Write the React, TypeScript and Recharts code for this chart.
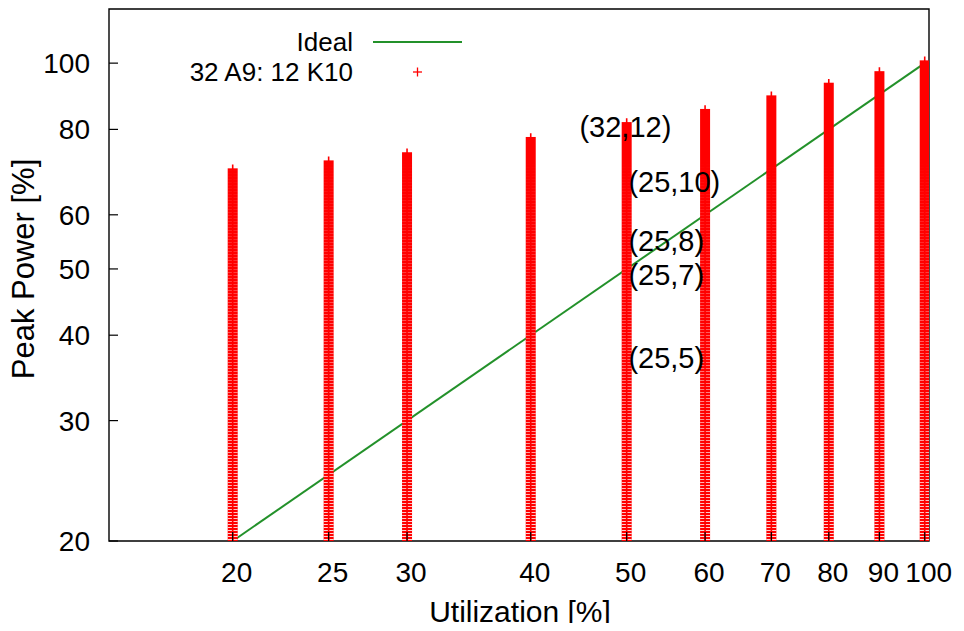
import React from 'react';
import { ScatterChart, Scatter, XAxis, YAxis, ReferenceArea, Label } from 'recharts';

// Utilization levels (x) and the peak power reached at each level (y)
const utilization = [20, 25, 30, 40, 50, 60, 70, 80, 90, 100];
const peakPower = [70.0, 71.9, 73.9, 77.8, 81.8, 85.5, 89.5, 93.4, 97.1, 100.7];

// Ideal proportional line
const idealX = [20, 100];
const idealY = [20, 100];

// Configuration annotations
const noteText = ['(32,12)', '(25,10)', '(25,8)', '(25,7)', '(25,5)'];
const noteX = [44.8, 50.2, 50.2, 50.2, 50.2];
const noteY = [80.7, 67.0, 55.1, 49.0, 37.1];

const xTicks = [20, 25, 30, 40, 50, 60, 70, 80, 90, 100];
const yTicks = [20, 30, 40, 50, 60, 80, 100];

// The chart covers the whole page (the wrapper cancels the body margin)
const W = 964;
const H = 631;
const MARGIN = { top: 9, right: 35, bottom: 8, left: 0 };
const XAXIS_H = 82;
const YAXIS_W = 109;
const PLOT_BOTTOM = H - MARGIN.bottom - XAXIS_H;

const FONT = '"Liberation Sans", Arial, Helvetica, sans-serif';
const RED = '#ff0000';
const GREEN = '#23912a';

const columnData = utilization.map((x, i) => ({ x, y: peakPower[i] }));
const idealData = idealX.map((x, i) => ({ x, y: idealY[i] }));
const noteData = noteText.map((text, i) => ({ x: noteX[i], y: noteY[i], text }));

// A stacked column of "+" markers running from the peak down to the axis
const Column = (props: any) => {
  const { cx, cy } = props;
  const bottom = PLOT_BOTTOM + 4;
  const h = bottom - cy;
  return (
    <g>
      <rect x={cx - 5} y={cy - 0.7} width={10} height={h + 0.7} fill={RED} />
      <rect x={cx - 5} y={cy + 1} width={10} height={h - 1} fill="url(#colGaps)" mask="url(#colFade)" />
      <line x1={cx} x2={cx} y1={cy - 4.5} y2={bottom + 0.5} stroke={RED} strokeWidth={1.6} />
    </g>
  );
};

const Note = (props: any) => {
  const { cx, cy, payload } = props;
  return (
    <text x={cx} y={cy} dy="0.36em" textAnchor="start" fontFamily={FONT} fontSize={29} fill="#000">
      {payload.text}
    </text>
  );
};

const XTick = (props: any) => {
  const { x, y, payload } = props;
  return (
    <g>
      <line x1={x} x2={x} y1={y} y2={y - 9} stroke="#000" strokeWidth={1.2} />
      <text x={x + 4} y={y + 41} textAnchor="middle" fontFamily={FONT} fontSize={28} fill="#000">
        {payload.value}
      </text>
    </g>
  );
};

const YTick = (props: any) => {
  const { x, y, payload } = props;
  return (
    <g>
      <line x1={x} x2={x + 9} y1={y} y2={y} stroke="#000" strokeWidth={1.2} />
      <text x={x - 19} y={y} dy="0.36em" textAnchor="end" fontFamily={FONT} fontSize={28} fill="#000">
        {payload.value}
      </text>
    </g>
  );
};

const Hidden = () => <g />;

export default function App() {
  return (
    <div style={{ position: 'relative', width: W, height: H, margin: -8, background: '#fff' }}>
      <ScatterChart width={W} height={H} margin={MARGIN}>
        <XAxis
          type="number"
          dataKey="x"
          scale="log"
          domain={[15, 101]}
          ticks={xTicks}
          interval={0}
          allowDataOverflow
          axisLine={false}
          tickLine={false}
          tickSize={0}
          tickMargin={0}
          height={XAXIS_H}
          tick={<XTick />}
        >
          <Label
            content={() => (
              <text x={520} y={622} textAnchor="middle" fontFamily={FONT} fontSize={30} fill="#000">
                Utilization [%]
              </text>
            )}
          />
        </XAxis>
        <YAxis
          type="number"
          dataKey="y"
          scale="log"
          domain={[20, 120]}
          ticks={yTicks}
          interval={0}
          allowDataOverflow
          axisLine={false}
          tickLine={false}
          tickSize={0}
          tickMargin={0}
          width={YAXIS_W}
          tick={<YTick />}
        >
          <Label
            content={() => (
              <text
                x={34}
                y={269}
                textAnchor="middle"
                transform="rotate(-90, 34, 269)"
                fontFamily={FONT}
                fontSize={31}
                fill="#000"
              >
                Peak Power [%]
              </text>
            )}
          />
        </YAxis>
        <ReferenceArea
          x1={15}
          x2={101}
          y1={20}
          y2={120}
          fill="none"
          stroke="#000"
          strokeWidth={1.4}
          ifOverflow="visible"
        />
        <Scatter
          name="Ideal"
          data={idealData}
          line={{ stroke: GREEN, strokeWidth: 2 }}
          shape={<Hidden />}
          isAnimationActive={false}
        />
        <Scatter name="32 A9: 12 K10" data={columnData} shape={<Column />} isAnimationActive={false} />
        <Scatter name="notes" data={noteData} shape={<Note />} isAnimationActive={false} />
      </ScatterChart>
      <svg
        width={W}
        height={H}
        style={{ position: 'absolute', left: 0, top: 0, pointerEvents: 'none' }}
      >
        <defs>
          <pattern id="colGaps" patternUnits="userSpaceOnUse" width={4} height={3}>
            <rect x={0} y={2} width={4} height={1} fill="#ffffff" />
          </pattern>
          <linearGradient id="colFadeGrad" gradientUnits="userSpaceOnUse" x1={0} y1={160} x2={0} y2={PLOT_BOTTOM}>
            <stop offset="0" stopColor="#fff" stopOpacity={0} />
            <stop offset="0.45" stopColor="#fff" stopOpacity={0.35} />
            <stop offset="1" stopColor="#fff" stopOpacity={0.85} />
          </linearGradient>
          <mask id="colFade" maskUnits="userSpaceOnUse" x={0} y={0} width={W} height={H}>
            <rect x={0} y={0} width={W} height={H} fill="url(#colFadeGrad)" />
          </mask>
        </defs>
        <g fontFamily={FONT} fontSize={26} fill="#000">
          <text x={353} y={42} dy="0.36em" textAnchor="end">Ideal</text>
          <line x1={373} x2={462} y1={42} y2={42} stroke={GREEN} strokeWidth={2} />
          <text x={353} y={72} dy="0.36em" textAnchor="end">32 A9: 12 K10</text>
          <line x1={413} x2={422} y1={72} y2={72} stroke={RED} strokeWidth={1.3} />
          <line x1={417.5} x2={417.5} y1={67.5} y2={76.5} stroke={RED} strokeWidth={1.3} />
        </g>
      </svg>
    </div>
  );
}
